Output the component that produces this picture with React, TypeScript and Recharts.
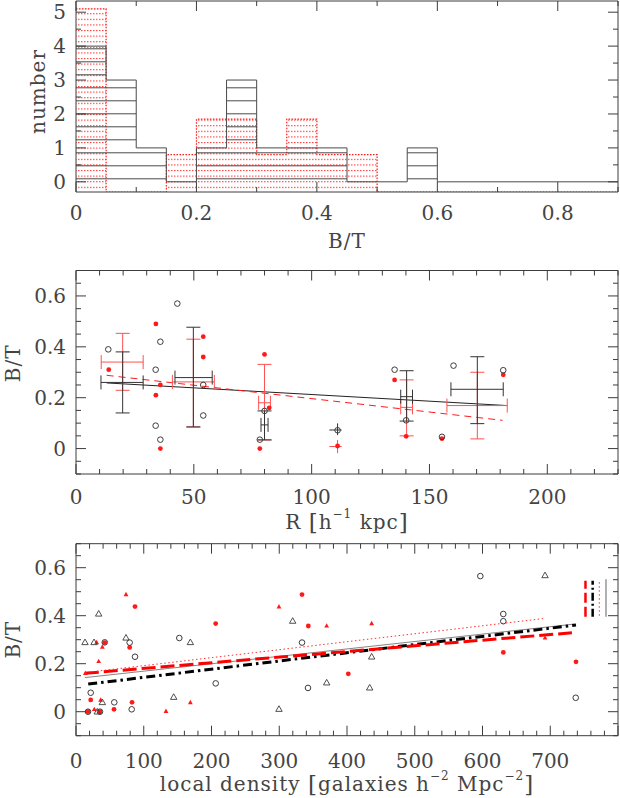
import React from 'react';
import { ComposedChart, Area, Line, Scatter, ErrorBar, XAxis, YAxis } from 'recharts';

const INK = '#3c3c3c';
const TEXT = '#444';
const RED = '#ff1a1a';
const FONT = '"DejaVu Serif", "Liberation Serif", serif';
const FS = 20;

// ---------- panel 1: B/T histogram (step edges, values hold until the next edge)
const BIN_EDGES = [0, 0.05, 0.1, 0.15, 0.2, 0.25, 0.3, 0.35, 0.4, 0.45, 0.5, 0.55, 0.6, 0.9];
const COUNT_BLACK = [4, 3, 1, 0, 1, 3, 1, 1, 1, 0, 0, 1, 0, 0];
const COUNT_RED = [5.1, -0.3, -0.3, 0.8, 1.85, 1.85, 0.8, 1.85, 0.8, 0.8, -0.3, -0.3, -0.3, -0.3];
const P1_X_TICKS = [0, 0.1, 0.2, 0.3, 0.4, 0.5, 0.6, 0.7, 0.8, 0.9];
const P1_X_LABELS = [0, 0.2, 0.4, 0.6, 0.8];
const P1_Y_TICKS = [0, 0.5, 1, 1.5, 2, 2.5, 3, 3.5, 4, 4.5, 5];
const P1_Y_LABELS = [0, 1, 2, 3, 4, 5];

// ---------- panel 2: B/T vs R
const P2_CIRCLES: [number, number][] = [
  [13.7, 0.39], [43, 0.57], [35.8, 0.42], [33.8, 0.31], [54, 0.25], [54, 0.13], [33.8, 0.09],
  [35.8, 0.035], [80, 0.148], [78, 0.035], [111, 0.072], [135.2, 0.31], [140.1, 0.111],
  [155.3, 0.046], [160.2, 0.326], [181.3, 0.308],
];
const P2_DOTS: [number, number][] = [
  [13.9, 0.31], [33.9, 0.49], [35.8, 0.25], [33.9, 0.21], [35.8, 0.0], [54, 0.44], [54, 0.36],
  [80, 0.37], [82, 0.16], [78, 0.0], [111, 0.01], [135.2, 0.27], [140.1, 0.048], [155.3, 0.039],
  [181.3, 0.29],
];
// [R, B/T, R low, R high, B/T low, B/T high]
const P2_BINS_BLACK: number[][] = [
  [19.8, 0.26, 10.6, 28.5, 0.14, 0.38],
  [49.8, 0.279, 42, 57.8, 0.085, 0.477],
  [80, 0.093, 78.5, 81.5, 0.034, 0.148],
  [140.3, 0.204, 137.8, 142.8, 0.108, 0.306],
  [170.3, 0.233, 159.1, 181.3, 0.098, 0.361],
];
const P2_BINS_RED: number[][] = [
  [19.8, 0.34, 10.7, 28.5, 0.229, 0.453],
  [49.8, 0.262, 40.9, 58.7, 0.085, 0.43],
  [80, 0.18, 77.5, 82.5, 0.034, 0.331],
  [140.3, 0.162, 137.8, 142.8, 0.05, 0.27],
  [170.3, 0.169, 157.4, 183, 0.038, 0.3],
];
const P2_SINGLE_BLACK: number[][] = [[111, 0.073, 107.5, 112.7, 0.053, 0.099]];
const P2_SINGLE_RED: number[][] = [[111, 0.008, 107.5, 112.7, -0.018, 0.034]];
const P2_FIT_BLACK: [number, number][] = [[13, 0.258], [183, 0.169]];
const P2_FIT_RED: [number, number][] = [[13, 0.288], [181, 0.111]];
const P2_X_LABELS = [0, 50, 100, 150, 200];
const P2_Y_LABELS = [0, 0.2, 0.4, 0.6];

// ---------- panel 3: B/T vs local density
const P3_CIRCLES: [number, number][] = [
  [21.7, 0.079], [17.7, 0], [35.4, 0], [42.4, 0.289], [56.5, 0.039], [82.2, 0.01], [79.2, 0.288],
  [87.1, 0.229], [152.5, 0.307], [206.2, 0.118], [333.6, 0.288], [342.4, 0.099], [596.8, 0.565],
  [630.7, 0.407], [630.7, 0.377], [737.6, 0.058],
];
const P3_DOTS: [number, number][] = [
  [21.7, 0.049], [17.7, 0], [35.4, 0], [42.4, 0.288], [56.1, 0.01], [79.2, 0.268], [82.7, 0.039],
  [87.1, 0.438], [206.2, 0.367], [333.6, 0.488], [342.9, 0.357], [401.9, 0.158], [630.7, 0.247],
  [738, 0.208],
];
const P3_TRIANGLES: [number, number][] = [
  [13.3, 0.289], [26.6, 0.289], [33.5, 0.408], [38.9, 0.039], [31.4, 0], [73.8, 0.308],
  [144.2, 0.061], [168.8, 0.289], [299.6, 0.011], [319.8, 0.378], [370, 0.121], [436.4, 0.229],
  [433.5, 0.1], [692.3, 0.568],
];
const P3_RED_TRIANGLES: [number, number][] = [
  [13.8, 0.16], [30.5, 0.289], [33.5, 0.21], [38.9, 0.27], [36.4, 0.049], [27, 0.01], [73.8, 0.489],
  [132.8, 0.002], [168.8, 0.039], [299.6, 0.438], [370, 0.358], [436.4, 0.368], [692.3, 0.308],
];
const P3_FIT_GRAY: [number, number][] = [[13, 0.142], [735, 0.365]];
const P3_FIT_BLACK: [number, number][] = [[18, 0.115], [738, 0.361]];
const P3_FIT_RED: [number, number][] = [[13, 0.16], [732, 0.329]];
const P3_FIT_RED_THIN: [number, number][] = [[13, 0.163], [690, 0.388]];
const P3_KEY_RED: [number, number][] = [[752, 0.396], [752, 0.546]];
const P3_KEY_BLACK: [number, number][] = [[762.6, 0.396], [762.6, 0.546]];
const P3_KEY_RED_THIN: [number, number][] = [[772.4, 0.4], [772.4, 0.546]];
const P3_KEY_GRAY: [number, number][] = [[782.3, 0.396], [782.3, 0.552]];
const P3_X_LABELS = [0, 100, 200, 300, 400, 500, 600, 700];
const P3_X_MAJOR = [0, 100, 200, 300, 400, 500, 600, 700, 800];

const BT_TICKS = range(-0.1, 0.7, 0.05);
const BT_MAJOR = [0, 0.2, 0.4, 0.6];

function range(a: number, b: number, step: number) {
  const out: number[] = [];
  for (let i = 0; a + i * step <= b + 1e-9; i++) out.push(Math.round((a + i * step) * 1000) / 1000);
  return out;
}

const pts = (arr: [number, number][]) => arr.map(([x, y]) => ({ x, y }));
const bars = (arr: number[][]) =>
  arr.map(([x, y, xl, xh, yl, yh]) => ({ x, y, ex: [x - xl, xh - x], ey: [y - yl, yh - y] }));
const fmt = (v: number) => String(parseFloat(v.toFixed(2)));
const near = (v: number, list: number[]) => list.some((b) => Math.abs(v - b) < 1e-6);

type Side = 'bottom' | 'top' | 'left' | 'right';

function makeTick(side: Side, majors: number[], labels: number[] = [], gap = 21) {
  return (props: any) => {
    const { x, y, payload } = props;
    const v = payload.value as number;
    const len = near(v, majors) ? 10 : 5;
    const x2 = side === 'left' ? x + len : side === 'right' ? x - len : x;
    const y2 = side === 'bottom' ? y - len : side === 'top' ? y + len : y;
    const show = near(v, labels);
    return (
      <g>
        <line x1={x} y1={y} x2={x2} y2={y2} stroke={INK} strokeWidth={1} />
        {show && side === 'bottom' && (
          <text x={x} y={y + gap} textAnchor="middle" dominantBaseline="central"
            fontFamily={FONT} fontSize={FS} fill={TEXT}>{fmt(v)}</text>
        )}
        {show && side === 'left' && (
          <text x={x - gap} y={y} textAnchor="end" dominantBaseline="central"
            fontFamily={FONT} fontSize={FS} fill={TEXT}>{fmt(v)}</text>
        )}
      </g>
    );
  };
}

function xTitle(content: React.ReactNode, dy = 49) {
  return (props: any) => {
    const vb = props.viewBox;
    return (
      <text x={vb.x + vb.width / 2} y={vb.y + dy} textAnchor="middle" dominantBaseline="central"
        fontFamily={FONT} fontSize={FS} fill={TEXT} letterSpacing={1}>{content}</text>
    );
  };
}

function yTitle(content: string, cx: number, shift = 0) {
  return (props: any) => {
    const vb = props.viewBox;
    const cy = vb.y + vb.height / 2 + shift;
    return (
      <text x={cx} y={cy} transform={`rotate(-90 ${cx} ${cy})`} textAnchor="middle" letterSpacing={1}
        dominantBaseline="central" fontFamily={FONT} fontSize={FS} fill={TEXT}>{content}</text>
    );
  };
}

const Sup = ({ children }: { children: React.ReactNode }) => (
  <>
    <tspan dy={-8} fontSize={12}>{children}</tspan>
    <tspan dy={8}> </tspan>
  </>
);
const Br = ({ children }: { children: React.ReactNode }) => <tspan fontSize={23}>{children}</tspan>;

const noShape = () => <g />;
const openCircle = (p: any) => <circle cx={p.cx} cy={p.cy} r={2.8} fill="none" stroke={INK} strokeWidth={1} />;
const redDot = (p: any) => <circle cx={p.cx} cy={p.cy} r={2.4} fill={RED} />;
const openTri = (p: any) => (
  <path d={`M${p.cx},${p.cy - 3.3}L${p.cx + 3.2},${p.cy + 2.3}L${p.cx - 3.2},${p.cy + 2.3}Z`}
    fill="none" stroke={INK} strokeWidth={0.9} />
);
const redTri = (p: any) => (
  <path d={`M${p.cx},${p.cy - 2.6}L${p.cx + 2.4},${p.cy + 1.8}L${p.cx - 2.4},${p.cy + 1.8}Z`} fill={RED} />
);

const axisCommon = {
  type: 'number' as const,
  allowDataOverflow: true,
  tickSize: 0,
  tickMargin: 0,
  interval: 0 as const,
  axisLine: { stroke: INK, strokeWidth: 1 },
  tickLine: false,
};

function Frame(props: {
  xDomain: [number, number]; yDomain: [number, number]; xTicks: number[]; yTicks: number[];
  xMajor: number[]; yMajor: number[]; xLabels: number[]; yLabels: number[];
  bottomH: number; xTitleNode: React.ReactNode; yTitleFn: (p: any) => React.ReactElement;
  labelGap?: number; titleGap?: number;
}) {
  return [
    <XAxis key="xb" xAxisId="b" dataKey="x" orientation="bottom" height={props.bottomH} {...axisCommon}
      domain={props.xDomain} ticks={props.xTicks}
      tick={makeTick('bottom', props.xMajor, props.xLabels, props.labelGap ?? 21)}
      label={xTitle(props.xTitleNode, props.titleGap ?? 49)} />,
    <XAxis key="xt" xAxisId="t" dataKey="x" orientation="top" height={1} {...axisCommon}
      domain={props.xDomain} ticks={props.xTicks} tick={makeTick('top', props.xMajor)} />,
    <YAxis key="yl" yAxisId="l" dataKey="y" orientation="left" width={76} {...axisCommon}
      domain={props.yDomain} ticks={props.yTicks} tick={makeTick('left', props.yMajor, props.yLabels, 10)}
      label={props.yTitleFn} />,
    <YAxis key="yr" yAxisId="r" dataKey="y" orientation="right" width={2} {...axisCommon}
      domain={props.yDomain} ticks={props.yTicks} tick={makeTick('right', props.yMajor)} />,
  ];
}

function HistPanel() {
  const data = BIN_EDGES.map((x, i) => ({ x, black: COUNT_BLACK[i], red: COUNT_RED[i] }));
  return (
    <ComposedChart width={620} height={262} data={data} margin={{ top: 0, right: 0, bottom: 0, left: 0 }}>
      <defs>
        <pattern id="hatchBlack" patternUnits="userSpaceOnUse" x={0} y={9.3} width={8} height={13}>
          <rect x={0} y={0} width={8} height={1} fill="#4a4a4a" />
        </pattern>
        <pattern id="hatchRed" patternUnits="userSpaceOnUse" x={0} y={2} width={3} height={5.6}>
          <rect x={0} y={0} width={1.5} height={1.1} fill="#ff4040" />
        </pattern>
      </defs>
      {Frame({
        xDomain: [0, 0.9], yDomain: [-0.3, 5.33], xTicks: P1_X_TICKS, yTicks: P1_Y_TICKS,
        xMajor: P1_X_LABELS, yMajor: P1_Y_LABELS, xLabels: P1_X_LABELS, yLabels: P1_Y_LABELS,
        bottomH: 70, xTitleNode: 'B/T', yTitleFn: yTitle('number', 38, -5),
      })}
      <Area xAxisId="b" yAxisId="l" type="stepAfter" dataKey="red" baseValue={-0.3}
        stroke={RED} strokeWidth={1.2} strokeDasharray="1.5 1.5" fill="url(#hatchRed)" fillOpacity={1}
        isAnimationActive={false} dot={false} activeDot={false} />
      <Area xAxisId="b" yAxisId="l" type="stepAfter" dataKey="black" baseValue={0}
        stroke="#4a4a4a" strokeWidth={1} fill="url(#hatchBlack)" fillOpacity={1}
        isAnimationActive={false} dot={false} activeDot={false} />
    </ComposedChart>
  );
}

function RadiusPanel() {
  const capB = 7;
  return (
    <ComposedChart width={620} height={276} margin={{ top: 7.5, right: 0, bottom: 0, left: 0 }}>
      {Frame({
        xDomain: [0, 230], yDomain: [-0.1, 0.7], xTicks: range(0, 230, 10), yTicks: BT_TICKS,
        xMajor: P2_X_LABELS, yMajor: BT_MAJOR, xLabels: P2_X_LABELS, yLabels: P2_Y_LABELS,
        bottomH: 64, labelGap: 23, titleGap: 48,
        xTitleNode: (<>R <Br>[</Br>h<Sup>−1</Sup>kpc<Br>]</Br></>),
        yTitleFn: yTitle('B/T', 13, -9),
      })}
      <Line xAxisId="b" yAxisId="l" data={pts(P2_FIT_BLACK)} dataKey="y" stroke="#222" strokeWidth={1}
        dot={false} activeDot={false} isAnimationActive={false} />
      <Line xAxisId="b" yAxisId="l" data={pts(P2_FIT_RED)} dataKey="y" stroke={RED} strokeWidth={1}
        strokeDasharray="7 5" dot={false} activeDot={false} isAnimationActive={false} />
      <Scatter xAxisId="b" yAxisId="l" data={bars(P2_BINS_RED)} shape={noShape} isAnimationActive={false}>
        <ErrorBar dataKey="ey" direction="y" width={capB} stroke="#ff5050" strokeWidth={1} isAnimationActive={false} />
        <ErrorBar dataKey="ex" direction="x" width={capB} stroke="#ff5050" strokeWidth={1} isAnimationActive={false} />
      </Scatter>
      <Scatter xAxisId="b" yAxisId="l" data={bars(P2_BINS_BLACK)} shape={noShape} isAnimationActive={false}>
        <ErrorBar dataKey="ey" direction="y" width={capB} stroke="#333" strokeWidth={1} isAnimationActive={false} />
        <ErrorBar dataKey="ex" direction="x" width={capB} stroke="#333" strokeWidth={1} isAnimationActive={false} />
      </Scatter>
      <Scatter xAxisId="b" yAxisId="l" data={bars(P2_SINGLE_RED)} shape={noShape} isAnimationActive={false}>
        <ErrorBar dataKey="ey" direction="y" width={0} stroke="#ff5050" strokeWidth={1} isAnimationActive={false} />
        <ErrorBar dataKey="ex" direction="x" width={0} stroke="#ff5050" strokeWidth={1} isAnimationActive={false} />
      </Scatter>
      <Scatter xAxisId="b" yAxisId="l" data={bars(P2_SINGLE_BLACK)} shape={noShape} isAnimationActive={false}>
        <ErrorBar dataKey="ey" direction="y" width={0} stroke="#333" strokeWidth={1} isAnimationActive={false} />
        <ErrorBar dataKey="ex" direction="x" width={0} stroke="#333" strokeWidth={1} isAnimationActive={false} />
      </Scatter>
      <Scatter xAxisId="b" yAxisId="l" data={pts(P2_DOTS)} shape={redDot} isAnimationActive={false} />
      <Scatter xAxisId="b" yAxisId="l" data={pts(P2_CIRCLES)} shape={openCircle} isAnimationActive={false} />
    </ComposedChart>
  );
}

function DensityPanel() {
  const line = (d: [number, number][], stroke: string, w: number, dash?: string) => (
    <Line xAxisId="b" yAxisId="l" data={pts(d)} dataKey="y" stroke={stroke} strokeWidth={w}
      strokeDasharray={dash} dot={false} activeDot={false} isAnimationActive={false} />
  );
  return (
    <ComposedChart width={620} height={260} margin={{ top: 4.7, right: 0, bottom: 0, left: 0 }}>
      {Frame({
        xDomain: [0, 800], yDomain: [-0.1, 0.7], xTicks: range(0, 800, 20), yTicks: BT_TICKS,
        xMajor: P3_X_MAJOR, yMajor: BT_MAJOR, xLabels: P3_X_LABELS, yLabels: P2_Y_LABELS,
        bottomH: 62.3, labelGap: 25, titleGap: 48,
        xTitleNode: (
          <>local density <Br>[</Br>galaxies h<Sup>−2</Sup>Mpc<tspan dy={-8} fontSize={12}>−2</tspan>
            <tspan dy={8} fontSize={23}>]</tspan></>
        ),
        yTitleFn: yTitle('B/T', 13, 0),
      })}
      {line(P3_FIT_GRAY, '#666', 0.8)}
      {line(P3_FIT_BLACK, '#000', 3, '9 4 2.5 4')}
      {line(P3_FIT_RED, '#ff0000', 3, '14 5')}
      {line(P3_FIT_RED_THIN, '#ff3030', 1, '1.5 2.5')}
      {line(P3_KEY_RED, '#ff0000', 2.5, '10 4')}
      {line(P3_KEY_BLACK, '#000', 2.5, '8 3 2 3')}
      {line(P3_KEY_RED_THIN, '#ff3030', 1, '1.5 2.5')}
      {line(P3_KEY_GRAY, '#b0b0b0', 2)}
      <Scatter xAxisId="b" yAxisId="l" data={pts(P3_RED_TRIANGLES)} shape={redTri} isAnimationActive={false} />
      <Scatter xAxisId="b" yAxisId="l" data={pts(P3_DOTS)} shape={redDot} isAnimationActive={false} />
      <Scatter xAxisId="b" yAxisId="l" data={pts(P3_TRIANGLES)} shape={openTri} isAnimationActive={false} />
      <Scatter xAxisId="b" yAxisId="l" data={pts(P3_CIRCLES)} shape={openCircle} isAnimationActive={false} />
    </ComposedChart>
  );
}

export default function App() {
  return (
    <div style={{ position: 'absolute', left: 0, top: 0, width: 620, height: 798, background: '#fff', overflow: 'hidden' }}>
      <div style={{ position: 'absolute', left: 0, top: 0 }}><HistPanel /></div>
      <div style={{ position: 'absolute', left: 0, top: 262 }}><RadiusPanel /></div>
      <div style={{ position: 'absolute', left: 0, top: 538 }}><DensityPanel /></div>
    </div>
  );
}
